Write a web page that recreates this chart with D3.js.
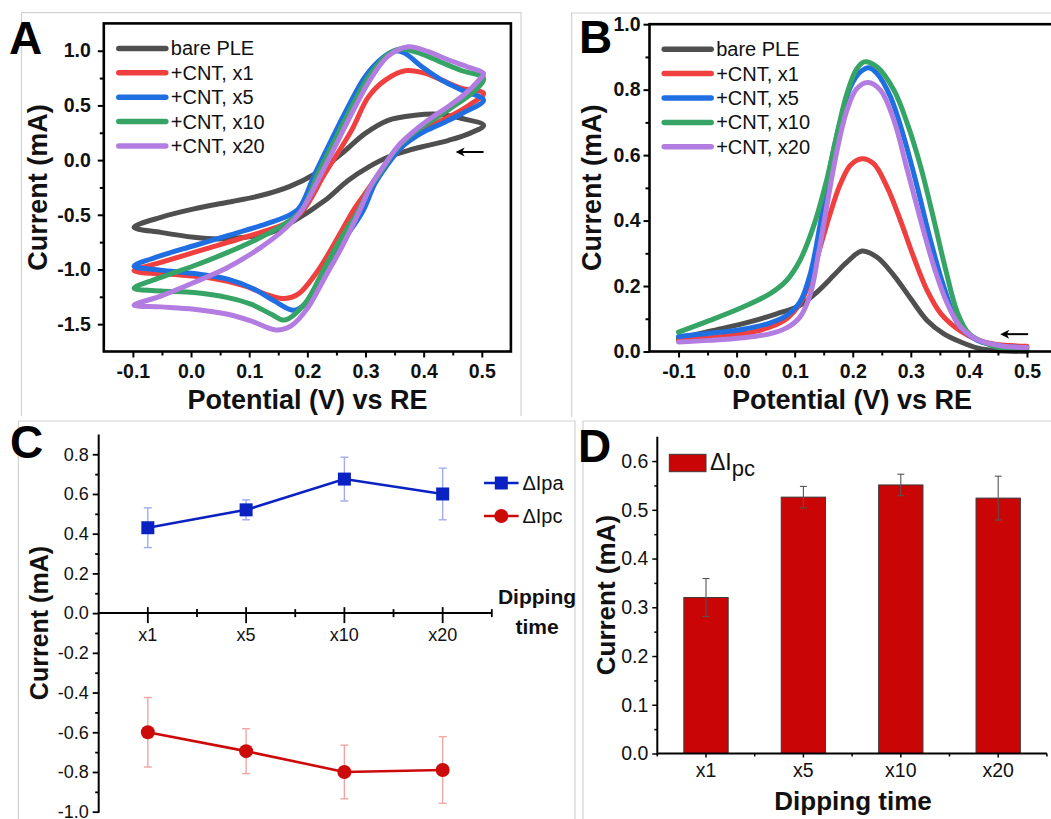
<!DOCTYPE html>
<html>
<head>
<meta charset="utf-8">
<script src="https://cdn.jsdelivr.net/npm/d3@7"></script>
<style>
  body { margin: 0; background: #fff; }
  svg { display: block; }
</style>
</head>
<body>
<svg id="fig" width="1051" height="819"></svg>
<script>
// ---------------- data ----------------
const traceNames = ["bare PLE", "+CNT, x1", "+CNT, x5", "+CNT, x10", "+CNT, x20"];

// Cyclic voltammograms [potential (V), current (mA)], starting at the 0.5 V vertex,
// cathodic sweep first, then the anodic sweep back.
const cvBare = [[0.503,0.318],[0.478,0.242],[0.443,0.181],[0.408,0.135],[0.374,0.089],[0.339,0.028],[0.305,-0.064],[0.270,-0.186],[0.230,-0.370],[0.178,-0.553],[0.138,-0.661],[0.092,-0.706],[0.046,-0.721],[0.005,-0.706],[-0.052,-0.661],[-0.098,-0.615],[-0.052,-0.523],[0.005,-0.446],[0.063,-0.385],[0.120,-0.324],[0.170,-0.240],[0.213,-0.125],[0.259,0.059],[0.299,0.242],[0.339,0.364],[0.385,0.410],[0.426,0.419],[0.466,0.380]];
const cvX1 = [[0.503,0.609],[0.478,0.502],[0.443,0.394],[0.414,0.318],[0.385,0.227],[0.357,0.089],[0.328,-0.094],[0.299,-0.308],[0.279,-0.461],[0.259,-0.645],[0.218,-1.012],[0.184,-1.226],[0.161,-1.266],[0.132,-1.232],[0.092,-1.150],[0.034,-1.079],[-0.023,-1.049],[-0.098,-1.012],[-0.052,-0.936],[0.005,-0.844],[0.063,-0.752],[0.120,-0.660],[0.161,-0.584],[0.190,-0.477],[0.230,-0.125],[0.276,0.272],[0.305,0.578],[0.334,0.731],[0.368,0.817],[0.403,0.793],[0.431,0.731],[0.466,0.655]];
const cvX5 = [[0.503,0.548],[0.466,0.426],[0.437,0.349],[0.408,0.279],[0.385,0.211],[0.362,0.119],[0.339,-0.033],[0.316,-0.217],[0.296,-0.461],[0.259,-0.767],[0.236,-1.012],[0.207,-1.257],[0.178,-1.373],[0.143,-1.287],[0.109,-1.180],[0.063,-1.088],[0.005,-1.037],[-0.052,-1.006],[-0.098,-0.970],[-0.052,-0.874],[0.005,-0.783],[0.063,-0.691],[0.120,-0.599],[0.161,-0.523],[0.185,-0.445],[0.213,-0.125],[0.241,0.181],[0.270,0.486],[0.299,0.761],[0.328,0.930],[0.351,1.000],[0.368,0.976],[0.397,0.853],[0.431,0.731],[0.466,0.639]];
const cvX10 = [[0.503,0.750],[0.489,0.639],[0.454,0.502],[0.426,0.401],[0.397,0.303],[0.374,0.211],[0.351,0.089],[0.328,-0.094],[0.305,-0.278],[0.288,-0.461],[0.259,-0.706],[0.230,-0.982],[0.195,-1.317],[0.161,-1.462],[0.138,-1.409],[0.103,-1.317],[0.063,-1.257],[0.005,-1.211],[-0.052,-1.196],[-0.098,-1.171],[-0.052,-1.073],[0.005,-0.966],[0.063,-0.844],[0.120,-0.706],[0.161,-0.584],[0.190,-0.461],[0.218,-0.125],[0.247,0.181],[0.276,0.486],[0.305,0.761],[0.334,0.945],[0.359,1.016],[0.397,0.970],[0.431,0.893],[0.466,0.817]];
const cvX20 = [[0.503,0.793],[0.495,0.731],[0.472,0.609],[0.443,0.493],[0.414,0.389],[0.385,0.272],[0.357,0.135],[0.334,-0.033],[0.311,-0.217],[0.290,-0.461],[0.259,-0.798],[0.230,-1.073],[0.201,-1.349],[0.172,-1.516],[0.146,-1.553],[0.103,-1.470],[0.063,-1.409],[0.005,-1.363],[-0.052,-1.342],[-0.098,-1.327],[-0.052,-1.243],[0.005,-1.119],[0.063,-0.982],[0.120,-0.798],[0.161,-0.630],[0.190,-0.461],[0.224,-0.125],[0.253,0.181],[0.282,0.486],[0.311,0.761],[0.339,0.951],[0.374,1.037],[0.408,0.991],[0.443,0.915],[0.478,0.848]];

// Differential pulse voltammograms [potential (V), current (mA)]
const dpvBare = [[-0.1,0.039],[-0.046,0.062],[0.011,0.085],[0.069,0.115],[0.109,0.141],[0.138,0.181],[0.167,0.232],[0.190,0.273],[0.216,0.307],[0.242,0.288],[0.271,0.232],[0.300,0.161],[0.328,0.095],[0.357,0.054],[0.386,0.029],[0.416,0.010],[0.445,0.003],[0.5,0.0]];
const dpvX1 = [[-0.1,0.034],[-0.046,0.042],[0.011,0.054],[0.057,0.074],[0.086,0.100],[0.109,0.146],[0.127,0.217],[0.144,0.319],[0.161,0.421],[0.179,0.513],[0.196,0.569],[0.216,0.589],[0.236,0.574],[0.259,0.503],[0.282,0.401],[0.305,0.288],[0.328,0.187],[0.352,0.115],[0.386,0.062],[0.416,0.035],[0.445,0.022],[0.5,0.016]];
const dpvX5 = [[-0.1,0.046],[-0.046,0.056],[0.011,0.068],[0.057,0.087],[0.086,0.110],[0.109,0.151],[0.127,0.238],[0.144,0.390],[0.161,0.564],[0.179,0.706],[0.196,0.808],[0.213,0.854],[0.228,0.867],[0.242,0.849],[0.265,0.778],[0.288,0.655],[0.311,0.503],[0.334,0.339],[0.357,0.197],[0.383,0.080],[0.416,0.033],[0.457,0.017],[0.5,0.012]];
const dpvX10 = [[-0.1,0.059],[-0.046,0.095],[0.011,0.136],[0.057,0.176],[0.086,0.217],[0.109,0.278],[0.132,0.380],[0.155,0.523],[0.173,0.666],[0.190,0.788],[0.207,0.864],[0.220,0.885],[0.242,0.869],[0.271,0.798],[0.294,0.696],[0.317,0.564],[0.340,0.400],[0.360,0.250],[0.380,0.120],[0.400,0.055],[0.434,0.022],[0.468,0.008],[0.5,0.005]];
const dpvX20 = [[-0.1,0.029],[-0.046,0.034],[0.011,0.042],[0.057,0.054],[0.086,0.072],[0.109,0.105],[0.127,0.176],[0.141,0.299],[0.155,0.441],[0.173,0.615],[0.190,0.737],[0.207,0.803],[0.226,0.822],[0.248,0.798],[0.271,0.706],[0.294,0.554],[0.317,0.401],[0.340,0.258],[0.363,0.146],[0.386,0.074],[0.416,0.035],[0.457,0.017],[0.5,0.012]];

const potentialTicks = [-0.1, 0.0, 0.1, 0.2, 0.3, 0.4, 0.5];
const potentialMinor = [-0.05, 0.05, 0.15, 0.25, 0.35, 0.45];
const cvTicks = [-1.5, -1.0, -0.5, 0.0, 0.5, 1.0];
const cvMinor = [-1.25, -0.75, -0.25, 0.25, 0.75];
const dpvTicks = [0.0, 0.2, 0.4, 0.6, 0.8, 1.0];
const dpvMinor = [0.1, 0.3, 0.5, 0.7, 0.9];

// Peak current change vs. dipping time
const dippingTimes = ["x1", "x5", "x10", "x20"];
const deltaIpa = [0.43, 0.52, 0.675, 0.60];
const deltaIpaErr = [0.10, 0.05, 0.11, 0.13];
const deltaIpc = [-0.60, -0.695, -0.80, -0.79];
const deltaIpcErr = [0.175, 0.113, 0.135, 0.168];
const cTicks = [-1.0, -0.8, -0.6, -0.4, -0.2, 0.0, 0.2, 0.4, 0.6, 0.8];
const cMinor = [-0.9, -0.7, -0.5, -0.3, -0.1, 0.1, 0.3, 0.5, 0.7];

const ipcBar = [0.32, 0.526, 0.551, 0.524];
const ipcBarErr = [0.039, 0.022, 0.022, 0.045];
const dTicks = [0.0, 0.1, 0.2, 0.3, 0.4, 0.5, 0.6];
const dMinor = [0.05, 0.15, 0.25, 0.35, 0.45, 0.55];

// ---------------- drawing ----------------
const FONT = "'Liberation Sans', Arial, Helvetica, sans-serif";
const traceColors = ["#4f4f4f", "#ef3f3f", "#1f6fe3", "#35a465", "#b37ce0"];
const svg = d3.select("#fig");
const f1 = d => d.toFixed(1);

function txt(g, x, y, s, size, weight, anchor) {
  return g.append("text").attr("x", x).attr("y", y).text(s)
    .attr("font-family", FONT).attr("font-size", size)
    .attr("font-weight", weight || "normal")
    .attr("text-anchor", anchor || "start").attr("fill", "#111");
}

function styleTicks(sel, size, weight, width) {
  sel.select(".domain").remove();
  sel.selectAll(".tick line").attr("stroke", "#000").attr("stroke-width", width);
  sel.selectAll(".tick text").attr("font-family", FONT).attr("font-size", size)
    .attr("font-weight", weight).attr("fill", "#111");
}

function border(x0, y0, x1, y1) {
  svg.append("path").attr("d", `M${x0},${y1} V${y0} H${x1} V${y1}`)
    .attr("fill", "none").attr("stroke", "#d2d2d2").attr("stroke-width", 1.2);
}

// Panel frames
border(21.5, 12.7, 521, 416);
border(571.7, 13, 1060, 417);
border(18.4, 421, 575, 830);
border(583, 421, 1060, 830);

// ---------- voltammetry panels (A, B) ----------
function voltPanel(o) {
  const g = svg.append("g");
  const x = d3.scaleLinear().domain([-0.15, 0.55]).range([o.left, o.right]);
  const y = d3.scaleLinear().domain(o.yDomain).range([o.bottom, o.top]);

  const line = d3.line().x(d => x(d[0])).y(d => y(d[1]))
    .curve(o.closed ? d3.curveCatmullRomClosed.alpha(0.5) : d3.curveCatmullRom.alpha(0.5));
  o.traces.forEach((t, i) => {
    g.append("path").attr("d", line(t)).attr("fill", "none")
      .attr("stroke", traceColors[i]).attr("stroke-width", 5)
      .attr("stroke-linejoin", "round").attr("stroke-linecap", "round");
  });

  // axes
  const xa = g.append("g").attr("transform", `translate(0,${o.bottom})`)
    .call(d3.axisBottom(x).tickValues(potentialTicks).tickSize(6).tickPadding(7).tickFormat(f1));
  styleTicks(xa, 19.5, "bold", 2);
  const xm = g.append("g").attr("transform", `translate(0,${o.bottom})`)
    .call(d3.axisBottom(x).tickValues(potentialMinor).tickSize(4).tickFormat(""));
  styleTicks(xm, 10, "normal", 2);
  const ya = g.append("g").attr("transform", `translate(${o.left},0)`)
    .call(d3.axisLeft(y).tickValues(o.yTicks).tickSize(6).tickPadding(o.yPad).tickFormat(f1));
  styleTicks(ya, 19.5, "bold", 2);
  const ym = g.append("g").attr("transform", `translate(${o.left},0)`)
    .call(d3.axisLeft(y).tickValues(o.yMinor).tickSize(4).tickFormat(""));
  styleTicks(ym, 10, "normal", 2);

  g.append("rect").attr("x", o.left).attr("y", o.top)
    .attr("width", o.right - o.left).attr("height", o.bottom - o.top)
    .attr("fill", "none").attr("stroke", "#000").attr("stroke-width", 2.6);

  // titles
  txt(g, o.xTitleX, o.bottom + 57, "Potential (V) vs RE", 27, "bold", "middle");
  txt(g, 0, 0, "Current (mA)", 27, "bold", "middle")
    .attr("transform", `translate(${o.yTitleX},${(o.top + o.bottom) / 2}) rotate(-90)`)
    .attr("dy", "0.36em");

  // legend
  traceNames.forEach((n, i) => {
    const yy = o.top + 25 + i * 24.4;
    g.append("line").attr("x1", o.legX).attr("x2", o.legX + 47).attr("y1", yy).attr("y2", yy)
      .attr("stroke", traceColors[i]).attr("stroke-width", 5.5).attr("stroke-linecap", "round");
    txt(g, o.legX + 52, yy + 7, n, 20, "normal");
  });

  // scan direction arrow
  const a0 = [x(o.arrow[0]), y(o.arrow[2])], a1 = [x(o.arrow[1]), y(o.arrow[2])];
  g.append("line").attr("x1", a0[0]).attr("x2", a1[0] + 4).attr("y1", a0[1]).attr("y2", a1[1])
    .attr("stroke", "#000").attr("stroke-width", 2);
  g.append("path").attr("d", `M${a1[0]},${a1[1]} l9,-4.5 l-2.5,4.5 l2.5,4.5 Z`).attr("fill", "#000");

  txt(g, o.labelX, o.labelY, o.label, 46, "bold").attr("fill", "#000");
}

voltPanel({
  left: 103.8, right: 510.9, top: 23.4, bottom: 351.5,
  yDomain: [-1.75, 1.25], yTicks: cvTicks, yMinor: cvMinor, yPad: 7,
  traces: [cvBare, cvX1, cvX5, cvX10, cvX20], closed: true,
  legX: 118.8, yTitleX: 37, xTitleX: 307.5,
  arrow: [0.503, 0.455, 0.074], label: "A", labelX: 9, labelY: 53.5
});
voltPanel({
  left: 649.5, right: 1056, top: 24.2, bottom: 351.5,
  yDomain: [0, 1.0], yTicks: dpvTicks, yMinor: dpvMinor, yPad: 3,
  traces: [dpvBare, dpvX1, dpvX5, dpvX10, dpvX20], closed: false,
  legX: 664.2, yTitleX: 591, xTitleX: 852,
  arrow: [0.502, 0.454, 0.053], label: "B", labelX: 579, labelY: 53
});

// ---------- panel C: peak current change ----------
(function () {
  const g = svg.append("g");
  const x = d3.scaleLinear().domain([0, 4]).range([98.7, 491.8]);
  const y = d3.scaleLinear().domain([-1.0, 0.9]).range([811.7, 434.4]);
  const y0 = y(0);

  // y axis
  const ya = g.append("g").attr("transform", `translate(${x(0)},0)`)
    .call(d3.axisLeft(y).tickValues(cTicks).tickSize(6).tickPadding(4).tickFormat(f1));
  styleTicks(ya, 18, "normal", 1.8);
  const ym = g.append("g").attr("transform", `translate(${x(0)},0)`)
    .call(d3.axisLeft(y).tickValues(cMinor).tickSize(3.5).tickFormat(""));
  styleTicks(ym, 10, "normal", 1.8);
  g.append("line").attr("x1", x(0)).attr("x2", x(0)).attr("y1", y(0.9)).attr("y2", y(-1.0) + 1)
    .attr("stroke", "#000").attr("stroke-width", 2);

  // category axis through zero
  g.append("line").attr("x1", x(0)).attr("x2", x(4)).attr("y1", y0).attr("y2", y0)
    .attr("stroke", "#000").attr("stroke-width", 2);
  dippingTimes.forEach((t, i) => {
    g.append("line").attr("x1", x(i + 0.5)).attr("x2", x(i + 0.5)).attr("y1", y0 - 6).attr("y2", y0 + 10)
      .attr("stroke", "#000").attr("stroke-width", 1.8);
    g.append("line").attr("x1", x(i + 1)).attr("x2", x(i + 1)).attr("y1", y0 - 4).attr("y2", y0 + 4)
      .attr("stroke", "#000").attr("stroke-width", 1.8);
    txt(g, x(i + 0.5), y0 + 28, t, 18, "normal", "middle");
  });

  const series = [
    { v: deltaIpa, e: deltaIpaErr, c: "#0b22c2", ec: "#a3abec", shape: "square", name: "\u0394Ipa" },
    { v: deltaIpc, e: deltaIpcErr, c: "#cc0a0a", ec: "#f2a5a5", shape: "circle", name: "\u0394Ipc" }
  ];
  const ln = d3.line().x((d, i) => x(i + 0.5)).y(d => y(d));
  function marker(sel, cx, cy, s) {
    if (s.shape === "square") {
      sel.append("rect").attr("x", cx - 6.5).attr("y", cy - 6.5).attr("width", 13).attr("height", 13).attr("fill", s.c);
    } else {
      sel.append("circle").attr("cx", cx).attr("cy", cy).attr("r", 7).attr("fill", s.c);
    }
  }
  series.forEach(s => {
    s.v.forEach((v, i) => {
      const cx = x(i + 0.5), t = y(v + s.e[i]), b = y(v - s.e[i]);
      g.append("line").attr("x1", cx).attr("x2", cx).attr("y1", t).attr("y2", b).attr("stroke", s.ec).attr("stroke-width", 1.4);
      [t, b].forEach(yy => g.append("line").attr("x1", cx - 4).attr("x2", cx + 4).attr("y1", yy).attr("y2", yy)
        .attr("stroke", s.ec).attr("stroke-width", 1.4));
    });
    g.append("path").attr("d", ln(s.v)).attr("fill", "none").attr("stroke", s.c).attr("stroke-width", 2.6);
    s.v.forEach((v, i) => marker(g, x(i + 0.5), y(v), s));
  });

  // legend
  series.forEach((s, i) => {
    const yy = 483 + i * 33;
    g.append("line").attr("x1", 484).attr("x2", 518.6).attr("y1", yy).attr("y2", yy).attr("stroke", s.c).attr("stroke-width", 2.6);
    marker(g, 501.3, yy, s);
    txt(g, 522.4, yy + 7, s.name, 20, "normal");
  });

  txt(g, 537, 604, "Dipping", 21, "bold", "middle");
  txt(g, 537, 634, "time", 21, "bold", "middle");
  txt(g, 0, 0, "Current (mA)", 25, "bold", "middle")
    .attr("transform", `translate(39,${(434.4 + 811.7) / 2}) rotate(-90)`).attr("dy", "0.36em");
  txt(g, 10, 458, "C", 46, "bold").attr("fill", "#000");
})();

// ---------- panel D: cathodic peak current bars ----------
(function () {
  const g = svg.append("g");
  const x = d3.scaleBand().domain(dippingTimes).range([657.3, 1046.9]).paddingInner(0.545).paddingOuter(0.2725);
  const y = d3.scaleLinear().domain([0, 0.65]).range([753.5, 436.7]);

  g.selectAll("rect.bar").data(ipcBar).enter().append("rect")
    .attr("x", (d, i) => x(dippingTimes[i])).attr("y", d => y(d))
    .attr("width", x.bandwidth()).attr("height", d => y(0) - y(d))
    .attr("fill", "#c90505").attr("stroke", "#3a3a3a").attr("stroke-width", 1);

  ipcBar.forEach((v, i) => {
    const cx = x(dippingTimes[i]) + x.bandwidth() / 2, t = y(v + ipcBarErr[i]), b = y(v - ipcBarErr[i]);
    g.append("line").attr("x1", cx).attr("x2", cx).attr("y1", t).attr("y2", b).attr("stroke", "#555").attr("stroke-width", 1.1);
    [t, b].forEach(yy => g.append("line").attr("x1", cx - 3.5).attr("x2", cx + 3.5).attr("y1", yy).attr("y2", yy)
      .attr("stroke", "#555").attr("stroke-width", 1.1));
  });

  const ya = g.append("g").attr("transform", "translate(657.3,0)")
    .call(d3.axisLeft(y).tickValues(dTicks).tickSize(5).tickPadding(4).tickFormat(f1));
  styleTicks(ya, 19.5, "normal", 1.5);
  const ym = g.append("g").attr("transform", "translate(657.3,0)")
    .call(d3.axisLeft(y).tickValues(dMinor).tickSize(3).tickFormat(""));
  styleTicks(ym, 10, "normal", 1.5);
  g.append("line").attr("x1", 657.3).attr("x2", 657.3).attr("y1", y(0.65)).attr("y2", y(0) + 1)
    .attr("stroke", "#000").attr("stroke-width", 2);

  const xa = g.append("g").attr("transform", `translate(0,${y(0)})`)
    .call(d3.axisBottom(x).tickSize(4).tickPadding(6));
  styleTicks(xa, 19.5, "normal", 1.5);
  const step = x.step();
  dippingTimes.concat(["end"]).forEach((t, i) => {
    const bx = 657.3 + i * step;
    g.append("line").attr("x1", bx).attr("x2", bx).attr("y1", y(0)).attr("y2", y(0) + 3).attr("stroke", "#000").attr("stroke-width", 1.5);
  });
  g.append("line").attr("x1", 657.3).attr("x2", 1046.9).attr("y1", y(0)).attr("y2", y(0))
    .attr("stroke", "#000").attr("stroke-width", 2);

  // legend
  g.append("rect").attr("x", 669.3).attr("y", 454.3).attr("width", 36.7).attr("height", 17.4)
    .attr("fill", "#c90505").attr("stroke", "#3a3a3a").attr("stroke-width", 1);
  const lt = txt(g, 710, 470, "\u0394I", 23, "normal");
  lt.append("tspan").attr("dy", 6).attr("font-size", 22).text("pc");

  txt(g, 853, 810, "Dipping time", 26, "bold", "middle");
  txt(g, 0, 0, "Current (mA)", 26, "bold", "middle")
    .attr("transform", `translate(606,${(436.7 + 753.5) / 2}) rotate(-90)`).attr("dy", "0.36em");
  txt(g, 578, 462, "D", 46, "bold").attr("fill", "#000");
})();
</script>
</body>
</html>
